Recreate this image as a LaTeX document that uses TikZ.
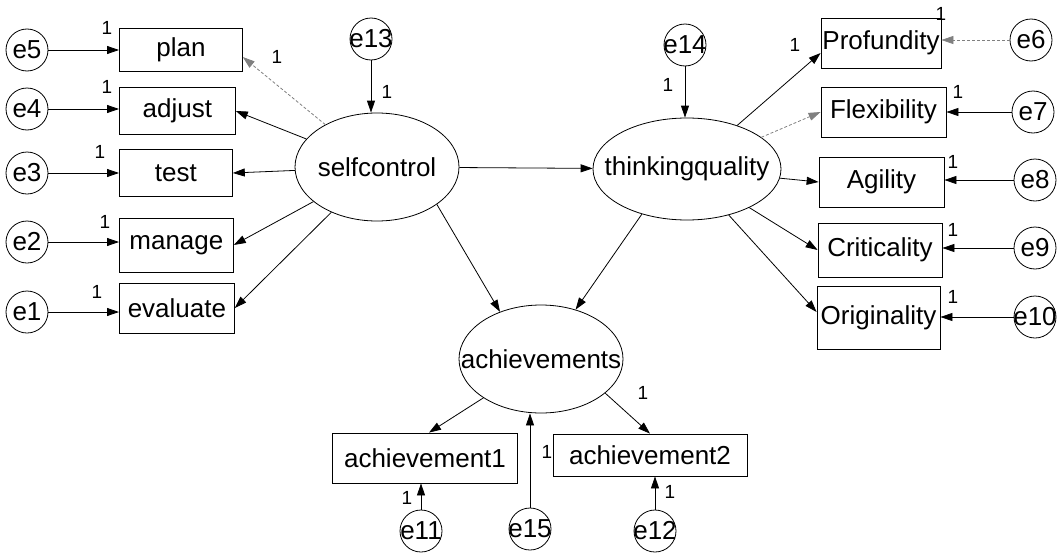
\documentclass[tikz,border=0pt]{standalone}
\usepackage{fontspec}
\setmainfont{Liberation Sans}
\usetikzlibrary{shapes.geometric,arrows.meta}
\begin{document}
\begin{tikzpicture}[x=1pt,y=-1pt,
  every node/.style={font=\fontsize{26}{29}\selectfont},
  obsbox/.style={draw, line width=0.8pt, rectangle, inner sep=0pt},
  latent/.style={draw, line width=0.8pt, ellipse, inner sep=0pt},
  errc/.style={draw, line width=0.8pt, circle, minimum size=42pt, inner sep=0pt},
  one/.style={font=\fontsize{19}{21}\selectfont, inner sep=0pt},
  arr/.style={line width=0.8pt, -{Triangle[length=12pt,width=8pt]}},
  faint/.style={arr, gray, dash pattern=on 3pt off 2pt}]
\useasboundingbox (0,0) rectangle (1062,554);

% latent variables
\node[latent, minimum width=164pt, minimum height=108pt, label={center:selfcontrol}] (sc) at (377,167) {};
\node[latent, minimum width=188pt, minimum height=102pt, label={center:thinkingquality}] (tq) at (687,169) {};
\node[latent, minimum width=164pt, minimum height=108pt, label={center:achievements}] (ach) at (541,359) {};

% left observed
\node[obsbox, anchor=west, minimum width=123pt, minimum height=43pt] (plan) at (119,50) {plan};
\node[obsbox, anchor=west, minimum width=116pt, minimum height=47pt] (adjust) at (119,111) {adjust};
\node[obsbox, anchor=west, minimum width=113pt, minimum height=47pt] (test) at (119,173) {test};
\node[obsbox, anchor=west, minimum width=114pt, minimum height=54pt] (manage) at (119,245) {manage};
\node[obsbox, anchor=west, minimum width=115pt, minimum height=50pt] (evaluate) at (119,308) {evaluate};

% right observed
\node[obsbox, minimum width=120pt, minimum height=50pt] (prof) at (881,43) {Profundity};
\node[obsbox, minimum width=125pt, minimum height=50pt] (flex) at (883.5,112) {Flexibility};
\node[obsbox, minimum width=125pt, minimum height=50pt] (agi) at (881.5,182) {Agility};
\node[obsbox, minimum width=124pt, minimum height=54pt] (crit) at (880,250) {Criticality};
\node[obsbox, minimum width=123pt, minimum height=63pt] (orig) at (878.5,318) {Originality};

% bottom observed
\node[obsbox, minimum width=185pt, minimum height=50pt] (a1) at (425,458) {achievement1};
\node[obsbox, minimum width=194pt, minimum height=42pt] (a2) at (650,455) {achievement2};

% error terms
\node[errc, label={center:e5}] (e5) at (27,50) {};
\node[errc, label={center:e4}] (e4) at (27,109) {};
\node[errc, label={center:e3}] (e3) at (27,173) {};
\node[errc, label={center:e2}] (e2) at (27,242) {};
\node[errc, label={center:e1}] (e1) at (27,312) {};
\node[errc, label={center:e13}] (e13) at (371,39) {};
\node[errc, label={center:e14}] (e14) at (685,45) {};
\node[errc, label={center:e6}] (e6) at (1031,40) {};
\node[errc, label={center:e7}] (e7) at (1033,112) {};
\node[errc, label={center:e8}] (e8) at (1035,180) {};
\node[errc, label={center:e9}] (e9) at (1035,248) {};
\node[errc, label={center:e10}] (e10) at (1035,317) {};
\node[errc, label={center:e11}] (e11) at (421,531) {};
\node[errc, label={center:e15}] (e15) at (530,529) {};
\node[errc, label={center:e12}] (e12) at (655,531) {};

% error arrows
\draw[arr] (e5) -- (e5 -| plan.west);
\draw[arr] (e4) -- (e4 -| adjust.west);
\draw[arr] (e3) -- (e3 -| test.west);
\draw[arr] (e2) -- (e2 -| manage.west);
\draw[arr] (e1) -- (e1 -| evaluate.west);
\draw[arr] (e13) -- (e13 |- sc.north);
\draw[arr] (e14) -- (e14 |- tq.north);
\draw[faint] (e6) -- (e6 -| prof.east);
\draw[arr] (e7) -- (e7 -| flex.east);
\draw[arr] (e8) -- (e8 -| agi.east);
\draw[arr] (e9) -- (e9 -| crit.east);
\draw[arr] (e10) -- (e10 -| orig.east);
\draw[arr] (e11) -- (e11 |- a1.south);
\draw[arr] (e15) -- (e15 |- ach.south);
\draw[arr] (e12) -- (e12 |- a2.south);

% loadings
\draw[faint] (sc) -- ([yshift=-7pt]plan.east);
\draw[arr] (sc) -- (adjust.east);
\draw[arr] (sc) -- (test.east);
\draw[arr] (sc) -- (manage.east);
\draw[arr] (sc) -- (evaluate.east);
\draw[arr] (tq) -- ([yshift=-10pt]prof.west);
\draw[faint] (tq) -- (flex.west);
\draw[arr] (tq) -- (agi.west);
\draw[arr] (tq) -- (crit.west);
\draw[arr] (tq) -- ([yshift=6pt]orig.west);
\draw[arr] (ach.-146) -- ([xshift=4pt]a1.north);
\draw[arr] (ach.-28) -- (a2.north);

% structural paths
\draw[arr] (sc) -- (tq);
\draw[arr] (sc.-32) -- (ach.131);
\draw[arr] (tq.-135) -- (ach.55);

% labels "1"
\node[one] (l1) at (107,28) {1};
\node[one] (l2) at (107,87) {1};
\node[one] (l3) at (100,152) {1};
\node[one] (l4) at (105,222) {1};
\node[one] (l5) at (97,292) {1};
\node[one] (l6) at (277,57) {1};
\node[one] (l7) at (387,92) {1};
\node[one] (l8) at (668,85) {1};
\node[one] (l9) at (795,45) {1};
\node[one] (l10) at (941,14) {1};
\node[one] (l11) at (958,92) {1};
\node[one] (l12) at (953,162) {1};
\node[one] (l13) at (953,230) {1};
\node[one] (l14) at (953,297) {1};
\node[one] (l15) at (643,393) {1};
\node[one] (l16) at (547,452) {1};
\node[one] (l17) at (407,498) {1};
\node[one] (l18) at (670,492) {1};
\end{tikzpicture}
\end{document}
